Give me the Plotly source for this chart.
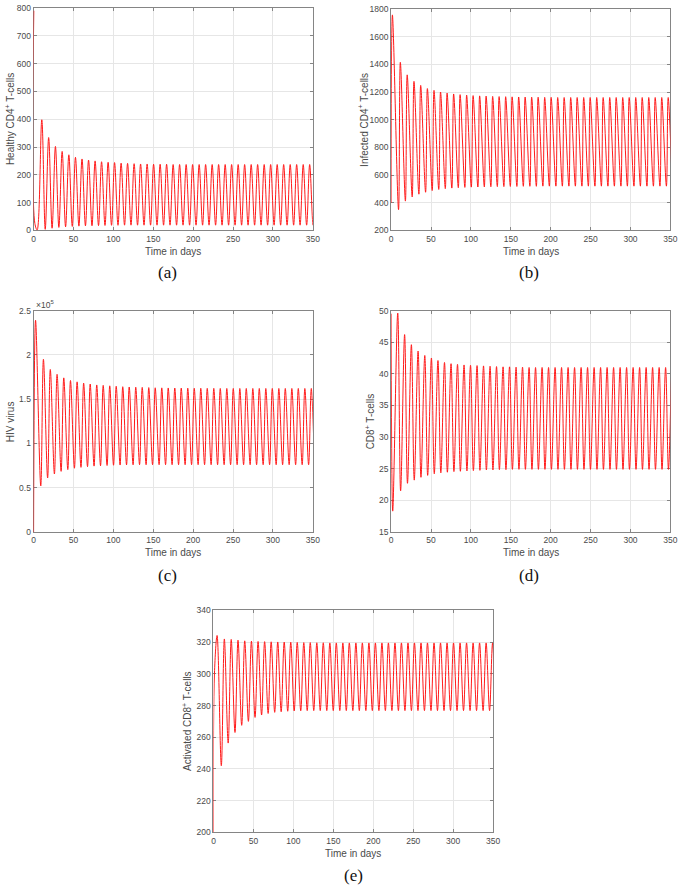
import plotly.graph_objects as go

# ---------------- data ----------------
# times (days) of the peaks of the healthy CD4+ curve; the other curves are
# placed relative to these cycles with their own lags
cycle_days = [10.3, 18.9, 27.4, 35.8, 44.2, 52.5, 60.7, 68.9, 77.1, 85.2,
              93.4, 101.5, 109.7, 117.8, 126.0, 134.1, 142.3, 150.4, 158.6, 166.7,
              174.9, 183.0, 191.2, 199.3, 207.5, 215.6, 223.8, 231.9, 240.1, 248.2,
              256.4, 264.5, 272.7, 280.8, 289.0, 297.1, 305.3, 313.4, 321.6, 329.7,
              337.9, 346.0, 354.2]

# (a) Healthy CD4+ T-cells
healthy_lead_t = [0.3, 1.6, 4.5]
healthy_lead_v = [790, 25, 2]
healthy_peak_lag = 0.0
healthy_trough_lag = 4.3
healthy_peaks = [398, 334, 302, 284, 272, 263, 257, 253, 250, 247,
                 245, 244, 242, 241, 240, 239, 239, 238, 238, 238,
                 237, 237, 237, 237, 237, 237, 237, 237, 237, 237,
                 237, 237, 237, 237, 237, 237, 237, 237, 237, 237,
                 237, 237, 237]
healthy_troughs = [4, 8, 11, 13, 14.5, 15.5, 16.5, 17, 17.5, 18,
                   18.5, 18.5, 19, 19, 19, 19, 19, 19, 19, 19,
                   19, 19, 19, 19, 19, 19, 19, 19, 19, 19,
                   19, 19, 19, 19, 19, 19, 19, 19, 19, 19,
                   19, 19, 19]

# (b) Infected CD4+ T-cells
infected_lead_t = [0, 1.6]
infected_lead_v = [400, 1757]
infected_peak_lag = 1.25
infected_trough_lag = -1.0
infected_peaks = [1415, 1324, 1277, 1248, 1225, 1212, 1200, 1192, 1186, 1181,
                  1177, 1174, 1172, 1170, 1168, 1167, 1166, 1165, 1164, 1163,
                  1162, 1162, 1161, 1161, 1160, 1160, 1160, 1160, 1160, 1160,
                  1160, 1160, 1160, 1160, 1160, 1160, 1160, 1160, 1160, 1160,
                  1160, 1160, 1160]
infected_troughs = [350, 412, 442, 462, 476, 488, 496, 502, 506, 509,
                    511, 513, 514, 515, 516, 517, 517, 518, 518, 519,
                    519, 519, 520, 520, 520, 520, 520, 520, 520, 520,
                    520, 520, 520, 520, 520, 520, 520, 520, 520, 520,
                    520, 520, 520]

# (c) HIV virus, in units of 1e5
virus_lead_t = [0, 2.5]
virus_lead_v = [0, 2.39]
virus_peak_lag = 2.05
virus_trough_lag = -1.3
virus_peaks = [1.95, 1.835, 1.78, 1.74, 1.71, 1.695, 1.68, 1.67, 1.66, 1.655,
               1.65, 1.645, 1.64, 1.637, 1.634, 1.632, 1.63, 1.628, 1.627, 1.626,
               1.625, 1.624, 1.623, 1.622, 1.622, 1.621, 1.621, 1.62, 1.62, 1.62,
               1.62, 1.62, 1.62, 1.62, 1.62, 1.62, 1.62, 1.62, 1.62, 1.62,
               1.62, 1.62, 1.62]
virus_troughs = [0.52, 0.61, 0.655, 0.685, 0.705, 0.72, 0.73, 0.738, 0.744, 0.748,
                 0.751, 0.754, 0.756, 0.758, 0.759, 0.76, 0.76, 0.76, 0.76, 0.76,
                 0.76, 0.76, 0.76, 0.76, 0.76, 0.76, 0.76, 0.76, 0.76, 0.76,
                 0.76, 0.76, 0.76, 0.76, 0.76, 0.76, 0.76, 0.76, 0.76, 0.76,
                 0.76, 0.76, 0.76]

# (d) CD8+ T-cells
cd8_lead_t = [0, 2.0]
cd8_lead_v = [49.5, 18.3]
cd8_peak_lag = -2.0
cd8_trough_lag = 1.6
cd8_peaks = [49.6, 46.2, 44.6, 43.6, 42.9, 42.5, 42.1, 41.8, 41.6, 41.5,
             41.4, 41.35, 41.3, 41.25, 41.2, 41.15, 41.1, 41.1, 41.05, 41.05,
             41.0, 41.0, 41.0, 41.0, 41.0, 41.0, 41.0, 41.0, 41.0, 41.0,
             41.0, 41.0, 41.0, 41.0, 41.0, 41.0, 41.0, 41.0, 41.0, 41.0,
             41.0, 41.0, 41.0]
cd8_troughs = [21.5, 22.7, 23.2, 23.65, 23.95, 24.2, 24.35, 24.45, 24.55, 24.6,
               24.65, 24.7, 24.75, 24.8, 24.8, 24.85, 24.85, 24.9, 24.9, 24.9,
               24.9, 24.9, 24.9, 24.9, 24.9, 24.9, 24.9, 24.9, 24.9, 24.9,
               24.9, 24.9, 24.9, 24.9, 24.9, 24.9, 24.9, 24.9, 24.9, 24.9,
               24.9, 24.9, 24.9]

# (e) Activated CD8+ T-cells
act_lead_t = [0, 1.2, 4.5]
act_lead_v = [200, 300, 324.2]
act_peak_lag = 3.3
act_trough_lag = -0.5
act_peaks = [322, 321.7, 321.2, 320.8, 320.6, 320.4, 320.3, 320.2, 320.1, 320.0,
             319.9, 319.8, 319.7, 319.7, 319.6, 319.6, 319.5, 319.5, 319.5, 319.5,
             319.5, 319.5, 319.5, 319.5, 319.5, 319.5, 319.5, 319.5, 319.5, 319.5,
             319.5, 319.5, 319.5, 319.5, 319.5, 319.5, 319.5, 319.5, 319.5, 319.5,
             319.5, 319.5, 319.5]
act_troughs = [242, 256.3, 263, 267.5, 270, 272.5, 274, 275, 275.7, 276.1,
               276.4, 276.6, 276.7, 276.8, 276.8, 276.8, 276.8, 276.8, 276.8, 276.8,
               276.8, 276.8, 276.8, 276.8, 276.8, 276.8, 276.8, 276.8, 276.8, 276.8,
               276.8, 276.8, 276.8, 276.8, 276.8, 276.8, 276.8, 276.8, 276.8, 276.8,
               276.8, 276.8, 276.8]

x_ticks = [0, 50, 100, 150, 200, 250, 300, 350]


def build(lead_t, lead_v, peak_lag, peaks, trough_lag, troughs):
    pts = list(zip(lead_t, lead_v))
    for i, c in enumerate(cycle_days):
        pts.append((c + peak_lag, peaks[i]))
        pts.append((c + trough_lag, troughs[i]))
    pts.sort(key=lambda p: p[0])
    return [p[0] for p in pts], [p[1] for p in pts]


W, H = 685, 891
panels = [
    dict(data=build(healthy_lead_t, healthy_lead_v, healthy_peak_lag, healthy_peaks,
                    healthy_trough_lag, healthy_troughs),
         box=(32, 315, 3, 228), yr=[0, 800], yt=[0, 100, 200, 300, 400, 500, 600, 700, 800],
         ytxt=None, title="Healthy CD4<sup>+</sup> T-cells", tx=8, label="(a)", lx=168, ly=271),
    dict(data=build(infected_lead_t, infected_lead_v, infected_peak_lag, infected_peaks,
                    infected_trough_lag, infected_troughs),
         box=(394.3, 677.3, 4, 228), yr=[200, 1800],
         yt=[200, 400, 600, 800, 1000, 1200, 1400, 1600, 1800],
         ytxt=None, title="Infected CD4<sup>+</sup> T-cells", tx=366, label="(b)", lx=534, ly=271),
    dict(data=build(virus_lead_t, virus_lead_v, virus_peak_lag, virus_peaks,
                    virus_trough_lag, virus_troughs),
         box=(32, 315, 309, 533), yr=[0, 2.5], yt=[0, 0.5, 1, 1.5, 2, 2.5],
         ytxt=["0", "0.5", "1", "1.5", "2", "2.5"], title="HIV virus", tx=8,
         label="(c)", lx=168, ly=577),
    dict(data=build(cd8_lead_t, cd8_lead_v, cd8_peak_lag, cd8_peaks,
                    cd8_trough_lag, cd8_troughs),
         box=(394.3, 677.3, 309, 533), yr=[15, 50], yt=[15, 20, 25, 30, 35, 40, 45, 50],
         ytxt=None, title="CD8<sup>+</sup> T-cells", tx=373, label="(d)", lx=534, ly=577),
    dict(data=build(act_lead_t, act_lead_v, act_peak_lag, act_peaks,
                    act_trough_lag, act_troughs),
         box=(214.3, 497.7, 612.3, 836.7), yr=[200, 340],
         yt=[200, 220, 240, 260, 280, 300, 320, 340],
         ytxt=None, title="Activated CD8<sup>+</sup> T-cells", tx=188,
         label="(e)", lx=356, ly=880),
]

fig = go.Figure()
FRAME = "#858585"
GRID = "#e6e6e6"
TICKC = "#4a4a4a"
SANS = "Liberation Sans, Arial, sans-serif"
SERIF = "Liberation Serif, Times New Roman, serif"

annotations = []
for i, p in enumerate(panels, start=1):
    sfx = "" if i == 1 else str(i)
    x0, x1, yt, yb = p["box"]
    xs, ys = p["data"]
    fig.add_trace(go.Scatter(x=xs, y=ys, mode="lines",
                             line=dict(color="#ff1a1a", width=1, shape="spline", smoothing=1),
                             xaxis="x" + sfx, yaxis="y" + sfx, showlegend=False,
                             hoverinfo="skip"))
    common = dict(showgrid=True, gridcolor=GRID, gridwidth=1, zeroline=False,
                  showline=True, linecolor=FRAME, linewidth=1, mirror="ticks",
                  ticks="inside", ticklen=3, tickcolor=FRAME, layer="below traces",
                  tickfont=dict(family=SANS, size=8.5, color=TICKC))
    xa = dict(domain=[x0 / W, x1 / W], range=[0, 350], tickvals=x_ticks,
              anchor="y" + sfx, **common)
    ya = dict(domain=[1 - yb / H, 1 - yt / H], range=p["yr"], tickvals=p["yt"],
              anchor="x" + sfx, **common)
    if p["ytxt"] is not None:
        ya["ticktext"] = p["ytxt"]
    fig.update_layout(**{"xaxis" + sfx: xa, "yaxis" + sfx: ya})

    annotations.append(dict(text=p["title"], x=p["tx"] / W, y=1 - ((yt + yb) / 2) / H,
                            xref="paper", yref="paper", xanchor="center", yanchor="middle",
                            textangle=-90, showarrow=False,
                            font=dict(family=SANS, size=10, color=TICKC)))
    annotations.append(dict(text="Time in days", x=((x0 + x1) / 2) / W, y=1 - (yb + 21) / H,
                            xref="paper", yref="paper", xanchor="center", yanchor="middle",
                            showarrow=False, font=dict(family=SANS, size=10, color=TICKC)))
    annotations.append(dict(text=p["label"], x=p["lx"] / W, y=1 - p["ly"] / H,
                            xref="paper", yref="paper", xanchor="center", yanchor="middle",
                            showarrow=False, font=dict(family=SERIF, size=17, color="#111111")))

annotations.append(dict(text="\u00d710<sup>5</sup>", x=32 / W, y=1 - 303 / H,
                        xref="paper", yref="paper", xanchor="left", yanchor="middle",
                        showarrow=False, font=dict(family=SANS, size=8.5, color=TICKC)))

fig.update_layout(width=W, height=H, margin=dict(l=0, r=0, t=0, b=0),
                  paper_bgcolor="white", plot_bgcolor="white",
                  annotations=annotations, showlegend=False)

fig.write_html("out.html",
               config={"displayModeBar": False},
               post_script="document.body.style.margin='0';"
                           "document.body.style.padding='0';"
                           "document.documentElement.style.overflow='hidden';")
